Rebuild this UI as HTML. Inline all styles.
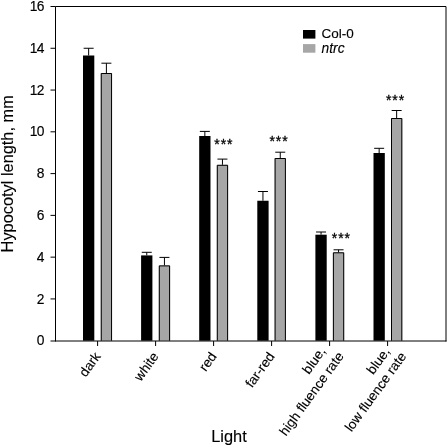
<!DOCTYPE html>
<html><head><meta charset="utf-8"><title>Hypocotyl length</title>
<style>html,body{margin:0;padding:0;background:#fff;}svg{display:block;}text{font-family:"Liberation Sans",Arial,sans-serif;fill:#000;}</style>
</head><body>
<svg width="448" height="447" viewBox="0 0 448 447">
<rect x="0" y="0" width="448" height="447" fill="#fff"/>
<rect x="83.0" y="55.5" width="11.3" height="285.2" fill="#000"/>
<rect x="100.75" y="73.0" width="11.3" height="267.7" fill="#a6a6a6"/>
<path d="M101.25 340.7V73.5H111.55V340.7" fill="none" stroke="#000" stroke-width="1"/>
<path d="M88.65 55.5V48.25M83.65 48.25H93.65" stroke="#000" stroke-width="1" fill="none"/>
<path d="M106.4 73.0V63.2M101.4 63.2H111.4" stroke="#000" stroke-width="1" fill="none"/>
<rect x="141.1" y="255.4" width="11.3" height="85.3" fill="#000"/>
<rect x="158.8" y="265.4" width="11.3" height="75.3" fill="#a6a6a6"/>
<path d="M159.3 340.7V265.9H169.6V340.7" fill="none" stroke="#000" stroke-width="1"/>
<path d="M146.75 255.4V252.3M141.75 252.3H151.75" stroke="#000" stroke-width="1" fill="none"/>
<path d="M164.45 265.4V257.4M159.45 257.4H169.45" stroke="#000" stroke-width="1" fill="none"/>
<rect x="199.2" y="136.0" width="11.3" height="204.7" fill="#000"/>
<rect x="216.8" y="164.8" width="11.3" height="175.9" fill="#a6a6a6"/>
<path d="M217.3 340.7V165.3H227.6V340.7" fill="none" stroke="#000" stroke-width="1"/>
<path d="M204.85 136.0V131.4M199.85 131.4H209.85" stroke="#000" stroke-width="1" fill="none"/>
<path d="M222.45 164.8V159.1M217.45 159.1H227.45" stroke="#000" stroke-width="1" fill="none"/>
<rect x="257.3" y="200.75" width="11.3" height="139.95" fill="#000"/>
<rect x="274.6" y="158.0" width="11.3" height="182.7" fill="#a6a6a6"/>
<path d="M275.1 340.7V158.5H285.4V340.7" fill="none" stroke="#000" stroke-width="1"/>
<path d="M262.95 200.75V191.5M257.95 191.5H267.95" stroke="#000" stroke-width="1" fill="none"/>
<path d="M280.25 158.0V152.2M275.25 152.2H285.25" stroke="#000" stroke-width="1" fill="none"/>
<rect x="315.4" y="234.7" width="11.3" height="106.0" fill="#000"/>
<rect x="332.9" y="252.3" width="11.3" height="88.4" fill="#a6a6a6"/>
<path d="M333.4 340.7V252.8H343.7V340.7" fill="none" stroke="#000" stroke-width="1"/>
<path d="M321.05 234.7V232.0M316.05 232.0H326.05" stroke="#000" stroke-width="1" fill="none"/>
<path d="M338.55 252.3V249.8M333.55 249.8H343.55" stroke="#000" stroke-width="1" fill="none"/>
<rect x="373.5" y="153.0" width="11.3" height="187.7" fill="#000"/>
<rect x="391.0" y="118.0" width="11.3" height="222.7" fill="#a6a6a6"/>
<path d="M391.5 340.7V118.5H401.8V340.7" fill="none" stroke="#000" stroke-width="1"/>
<path d="M379.15 153.0V148.3M374.15 148.3H384.15" stroke="#000" stroke-width="1" fill="none"/>
<path d="M396.65 118.0V110.5M391.65 110.5H401.65" stroke="#000" stroke-width="1" fill="none"/>
<path d="M55.5 341.5V6.5H446.0V341.5" fill="none" stroke="#000" stroke-width="1"/>
<path d="M50.5 341.0H446.5" fill="none" stroke="#000" stroke-width="1"/>
<text x="43.9" y="345.3" font-size="13.8" letter-spacing="-0.6" text-anchor="end" stroke="#000" stroke-width="0.15">0</text>
<line x1="50.5" x2="55.5" y1="298.93" y2="298.93" stroke="#000" stroke-width="1"/>
<text x="43.9" y="303.53" font-size="13.8" letter-spacing="-0.6" text-anchor="end" stroke="#000" stroke-width="0.15">2</text>
<line x1="50.5" x2="55.5" y1="257.15" y2="257.15" stroke="#000" stroke-width="1"/>
<text x="43.9" y="261.75" font-size="13.8" letter-spacing="-0.6" text-anchor="end" stroke="#000" stroke-width="0.15">4</text>
<line x1="50.5" x2="55.5" y1="215.38" y2="215.38" stroke="#000" stroke-width="1"/>
<text x="43.9" y="219.97" font-size="13.8" letter-spacing="-0.6" text-anchor="end" stroke="#000" stroke-width="0.15">6</text>
<line x1="50.5" x2="55.5" y1="173.6" y2="173.6" stroke="#000" stroke-width="1"/>
<text x="43.9" y="178.2" font-size="13.8" letter-spacing="-0.6" text-anchor="end" stroke="#000" stroke-width="0.15">8</text>
<line x1="50.5" x2="55.5" y1="131.82" y2="131.82" stroke="#000" stroke-width="1"/>
<text x="43.9" y="136.42" font-size="13.8" letter-spacing="-0.6" text-anchor="end" stroke="#000" stroke-width="0.15">10</text>
<line x1="50.5" x2="55.5" y1="90.05" y2="90.05" stroke="#000" stroke-width="1"/>
<text x="43.9" y="94.65" font-size="13.8" letter-spacing="-0.6" text-anchor="end" stroke="#000" stroke-width="0.15">12</text>
<line x1="50.5" x2="55.5" y1="48.27" y2="48.27" stroke="#000" stroke-width="1"/>
<text x="43.9" y="52.87" font-size="13.8" letter-spacing="-0.6" text-anchor="end" stroke="#000" stroke-width="0.15">14</text>
<line x1="50.5" x2="55.5" y1="6.5" y2="6.5" stroke="#000" stroke-width="1"/>
<text x="43.9" y="11.1" font-size="13.8" letter-spacing="-0.6" text-anchor="end" stroke="#000" stroke-width="0.15">16</text>
<line x1="97.6" x2="97.6" y1="341.0" y2="346.0" stroke="#000" stroke-width="1"/>
<line x1="155.6" x2="155.6" y1="341.0" y2="346.0" stroke="#000" stroke-width="1"/>
<line x1="213.6" x2="213.6" y1="341.0" y2="346.0" stroke="#000" stroke-width="1"/>
<line x1="271.6" x2="271.6" y1="341.0" y2="346.0" stroke="#000" stroke-width="1"/>
<line x1="329.6" x2="329.6" y1="341.0" y2="346.0" stroke="#000" stroke-width="1"/>
<line x1="387.6" x2="387.6" y1="341.0" y2="346.0" stroke="#000" stroke-width="1"/>
<text transform="translate(101.2 356.5) rotate(-54)" font-size="13.45" text-anchor="end" stroke="#000" stroke-width="0.12">dark</text>
<text transform="translate(159.2 356.5) rotate(-54)" font-size="13.45" text-anchor="end" stroke="#000" stroke-width="0.12">white</text>
<text transform="translate(217.2 356.5) rotate(-54)" font-size="13.45" text-anchor="end" stroke="#000" stroke-width="0.12">red</text>
<text transform="translate(275.2 356.5) rotate(-54)" font-size="13.45" text-anchor="end" stroke="#000" stroke-width="0.12">far-red</text>
<text transform="translate(326.2 351.3) rotate(-54)" font-size="13.45" text-anchor="end" stroke="#000" stroke-width="0.12">blue,</text>
<text transform="translate(344.3 356.3) rotate(-54)" font-size="13.45" text-anchor="end" stroke="#000" stroke-width="0.12">high fluence rate</text>
<text transform="translate(390.5 351.6) rotate(-54)" font-size="13.45" text-anchor="end" stroke="#000" stroke-width="0.12">blue,</text>
<text transform="translate(406.8 356.4) rotate(-54)" font-size="13.45" text-anchor="end" stroke="#000" stroke-width="0.12">low fluence rate</text>
<text x="223.9" y="148.7" font-size="14" letter-spacing="1.0" text-anchor="middle" stroke="#000" stroke-width="0.3">***</text>
<text x="279.1" y="145.7" font-size="14" letter-spacing="1.0" text-anchor="middle" stroke="#000" stroke-width="0.3">***</text>
<text x="341.4" y="242.7" font-size="14" letter-spacing="1.0" text-anchor="middle" stroke="#000" stroke-width="0.3">***</text>
<text x="395.6" y="104.7" font-size="14" letter-spacing="1.0" text-anchor="middle" stroke="#000" stroke-width="0.3">***</text>
<rect x="303" y="30" width="12.4" height="8.6" fill="#000"/>
<rect x="303" y="44.1" width="12.4" height="8.6" fill="#a6a6a6"/>
<text x="321.6" y="38.3" font-size="13.5" stroke="#000" stroke-width="0.12">Col-0</text>
<text x="321.6" y="52.6" font-size="13.8" font-style="italic" stroke="#000" stroke-width="0.12">ntrc</text>
<text x="229" y="441.5" font-size="16.4" text-anchor="middle" stroke="#000" stroke-width="0.12">Light</text>
<text transform="translate(13.1 173.8) rotate(-90)" font-size="16.35" text-anchor="middle" stroke="#000" stroke-width="0.12">Hypocotyl length, mm</text>
</svg></body></html>
